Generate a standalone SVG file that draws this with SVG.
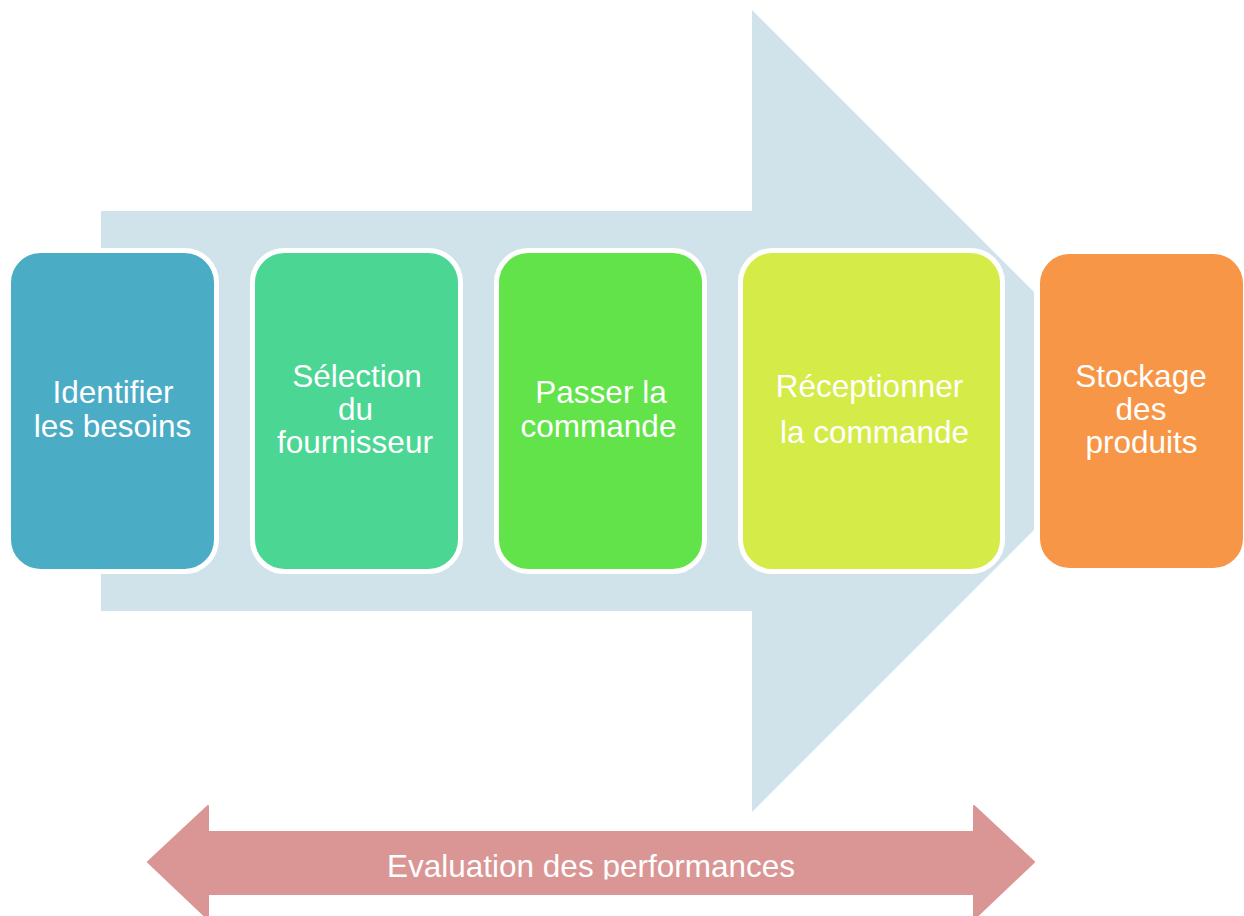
<svg xmlns="http://www.w3.org/2000/svg" width="1244" height="916" viewBox="0 0 1244 916">
<defs>
<style>
.box{stroke:#FFFFFF;stroke-width:5}
.lbl{font-family:"Liberation Sans",Arial,sans-serif;font-size:31.5px;fill:#FFFFFF;text-anchor:middle}
</style>
<clipPath id="evalClip"><rect x="0" y="830" width="1244" height="49.5"/></clipPath>
</defs>
<rect width="1244" height="916" fill="#FFFFFF"/>
<g id="connectors">
<polygon id="process-arrow" points="101,211 752,211 752,10 1034,292 1034,530 752,812 752,611 101,611" fill="#D1E3EA"/>
<polygon id="eval-arrow" points="148,862 208,806 208,832 974,832 974,806 1034,862 974,919 974,894 208,894 208,919" fill="#DA9694" stroke="#DA9694" stroke-width="2" stroke-linejoin="round"/>
</g>
<g id="node1">
<rect class="box" x="8.5" y="250.5" width="208" height="321" rx="32" fill="#4BACC6"/>
<text class="lbl" x="113" y="403">Identifier</text>
<text class="lbl" x="112.5" y="437">les besoins</text>
</g>
<g id="node2">
<rect class="box" x="252.5" y="250.5" width="208" height="321" rx="32" fill="#4BD693"/>
<text class="lbl" x="357" y="387">Sélection</text>
<text class="lbl" x="355.5" y="420">du</text>
<text class="lbl" x="355" y="453">fournisseur</text>
</g>
<g id="node3">
<rect class="box" x="496.5" y="250.5" width="208" height="321" rx="32" fill="#62E34A"/>
<text class="lbl" x="601" y="403">Passer la</text>
<text class="lbl" x="598.5" y="437">commande</text>
</g>
<g id="node4">
<rect class="box" x="740.5" y="250.5" width="262" height="321" rx="32" fill="#D5EC48"/>
<text class="lbl" x="869.5" y="397">Réceptionner</text>
<text class="lbl" x="874.5" y="443">la commande</text>
</g>
<g id="node5">
<rect class="box" x="1037.5" y="251.5" width="208" height="319" rx="32" fill="#F79646"/>
<text class="lbl" x="1141" y="387">Stockage</text>
<text class="lbl" x="1141" y="420">des</text>
<text class="lbl" x="1141.5" y="453">produits</text>
</g>
<g id="eval-label">
<text clip-path="url(#evalClip)" x="591" y="877" font-family="Liberation Sans, Arial, sans-serif" font-size="31.5" fill="#FFFFFF" text-anchor="middle">Evaluation des performances</text>
</g>
</svg>
